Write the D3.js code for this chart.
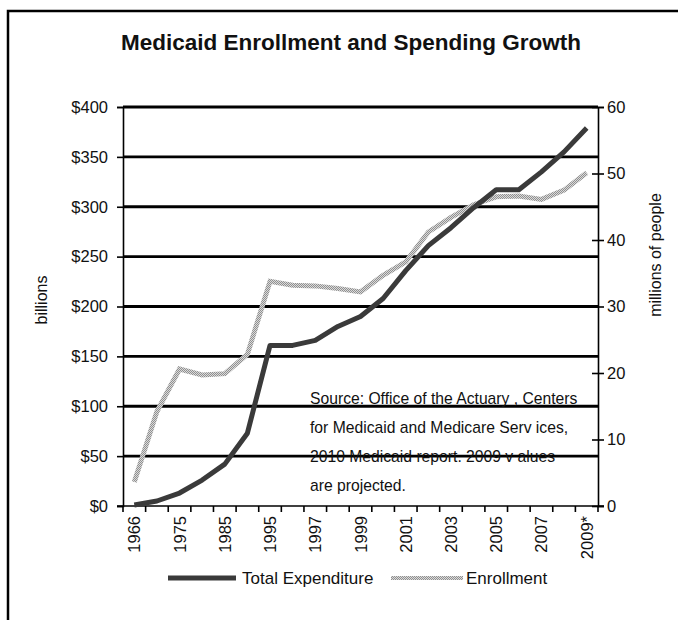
<!DOCTYPE html>
<html><head><meta charset="utf-8">
<script src="https://cdn.jsdelivr.net/npm/d3@7"></script>
<style>
html,body{margin:0;padding:0;background:#fff;}
svg{display:block;font-family:"Liberation Sans",Arial,sans-serif;}
</style></head>
<body>
<svg id="chart" width="678" height="620"></svg>
<script>
const categories = ["1966","1970","1975","1980","1985","1990","1995","1996","1997","1998","1999","2000","2001","2002","2003","2004","2005","2006","2007","2008","2009*"];
const xTickLabels = ["1966","1975","1985","1995","1997","1999","2001","2003","2005","2007","2009*"];
const expenditure = [1,5,13,26,42,73,161,161,166,180,190,208,236,261,279,299,317,317,335,355,379];
const enrollment = [3.6,14.2,20.6,19.7,19.9,22.8,33.8,33.2,33.1,32.7,32.2,34.7,36.7,41.2,43.4,45.3,46.5,46.6,46.1,47.5,50.1];
const leftTicks = [0,50,100,150,200,250,300,350,400];
const rightTicks = [0,10,20,30,40,50,60];
const gridTicks = [50,100,150,200,250,300,350,400];
const sourceLines = ["Source: Office of the Actuary , Centers","for Medicaid and Medicare Serv ices,","2010 Medicaid report. 2009 v alues","are projected."];

const svg = d3.select("#chart");
const L = 123, R = 598, T = 107, B = 506;

// frame
svg.append("rect").attr("x",8).attr("y",11).attr("width",720).attr("height",700)
  .attr("fill","none").attr("stroke","#000").attr("stroke-width",2.5);

// pattern for enrollment line
const defs = svg.append("defs");
const pat = defs.append("pattern").attr("id","chk").attr("patternUnits","userSpaceOnUse")
  .attr("width",2).attr("height",2);
pat.append("rect").attr("width",2).attr("height",2).attr("fill","#dadada");
pat.append("rect").attr("width",1).attr("height",1).attr("fill","#909090");
pat.append("rect").attr("x",1).attr("y",1).attr("width",1).attr("height",1).attr("fill","#909090");

const x = d3.scaleBand().domain(categories).range([L,R]).padding(0);
const cx = c => x(c) + x.bandwidth()/2;
const yL = d3.scaleLinear().domain([0,400]).range([B,T]);
const yR = d3.scaleLinear().domain([0,60]).range([B,T]);

// title
svg.append("text").attr("x",351).attr("y",50).attr("text-anchor","middle")
  .attr("font-weight","bold").attr("font-size",22.5).attr("fill","#111")
  .text("Medicaid Enrollment and Spending Growth");

// gridlines
svg.append("g").selectAll("line").data(gridTicks).join("line")
  .attr("x1",L).attr("x2",R).attr("y1",d=>yL(d)).attr("y2",d=>yL(d))
  .attr("stroke","#000").attr("stroke-width",2.8);

// left axis
const gl = svg.append("g").attr("transform",`translate(${L},0)`)
  .call(d3.axisLeft(yL).tickValues(leftTicks).tickFormat(d=>"$"+d).tickSize(6).tickPadding(9));
gl.select(".domain").attr("stroke","#000").attr("stroke-width",1.6);
gl.selectAll(".tick line").attr("stroke","#000").attr("stroke-width",1.6);
gl.selectAll(".tick text").attr("font-size",16.5).attr("fill","#111").attr("font-family","Liberation Sans, Arial, sans-serif");

// right axis
const gr = svg.append("g").attr("transform",`translate(${R},0)`)
  .call(d3.axisRight(yR).tickValues(rightTicks).tickSize(6).tickPadding(3));
gr.select(".domain").attr("stroke","#000").attr("stroke-width",1.6);
gr.selectAll(".tick line").attr("x1",-6).attr("stroke","#000").attr("stroke-width",1.6);
gr.selectAll(".tick text").attr("font-size",16.5).attr("fill","#111").attr("font-family","Liberation Sans, Arial, sans-serif");

// x axis
const gx = svg.append("g").attr("transform",`translate(0,${B})`);
gx.append("line").attr("x1",L-6).attr("x2",R+6).attr("y1",0).attr("y2",0).attr("stroke","#000").attr("stroke-width",1.6);
const boundaries = categories.map(c=>x(c)).concat([R]);
gx.selectAll("line.tk").data(boundaries).join("line").attr("class","tk")
  .attr("x1",d=>d).attr("x2",d=>d).attr("y1",0).attr("y2",6).attr("stroke","#000").attr("stroke-width",1.6);
gx.selectAll("text").data(xTickLabels).join("text")
  .attr("transform",d=>`translate(${cx(d)+6},10) rotate(-90)`)
  .attr("text-anchor","end").attr("font-size",16.5).attr("fill","#111").text(d=>d);

// axis titles
svg.append("text").attr("transform","translate(47,300) rotate(-90)").attr("text-anchor","middle")
  .attr("font-size",16).attr("fill","#111").text("billions");
svg.append("text").attr("transform","translate(661,255) rotate(-90)").attr("text-anchor","middle")
  .attr("font-size",16).attr("fill","#111").text("millions of people");

// source note
svg.append("g").selectAll("text").data(sourceLines).join("text")
  .attr("x",310).attr("y",(d,i)=>404+i*29)
  .attr("font-size",15.7).attr("fill","#111").text(d=>d);

// lines
const lineE = d3.line().x((d,i)=>cx(categories[i])).y(d=>yL(d));
const lineN = d3.line().x((d,i)=>cx(categories[i])).y(d=>yR(d));
svg.append("path").datum(enrollment).attr("d",lineN).attr("fill","none")
  .attr("stroke","url(#chk)").attr("stroke-width",5).attr("stroke-linejoin","miter");
svg.append("path").datum(expenditure).attr("d",lineE).attr("fill","none")
  .attr("stroke","#3a3a3a").attr("stroke-width",5).attr("stroke-linejoin","round");

// legend
const lg = svg.append("g");
lg.append("line").attr("x1",168).attr("x2",236).attr("y1",578).attr("y2",578).attr("stroke","#3a3a3a").attr("stroke-width",5);
lg.append("text").attr("x",242).attr("y",584).attr("font-size",17).attr("fill","#111").text("Total Expenditure");
lg.append("line").attr("x1",391).attr("x2",463).attr("y1",578).attr("y2",578).attr("stroke","url(#chk)").attr("stroke-width",4);
lg.append("text").attr("x",466).attr("y",584).attr("font-size",17).attr("fill","#111").text("Enrollment");
</script>
</body></html>
